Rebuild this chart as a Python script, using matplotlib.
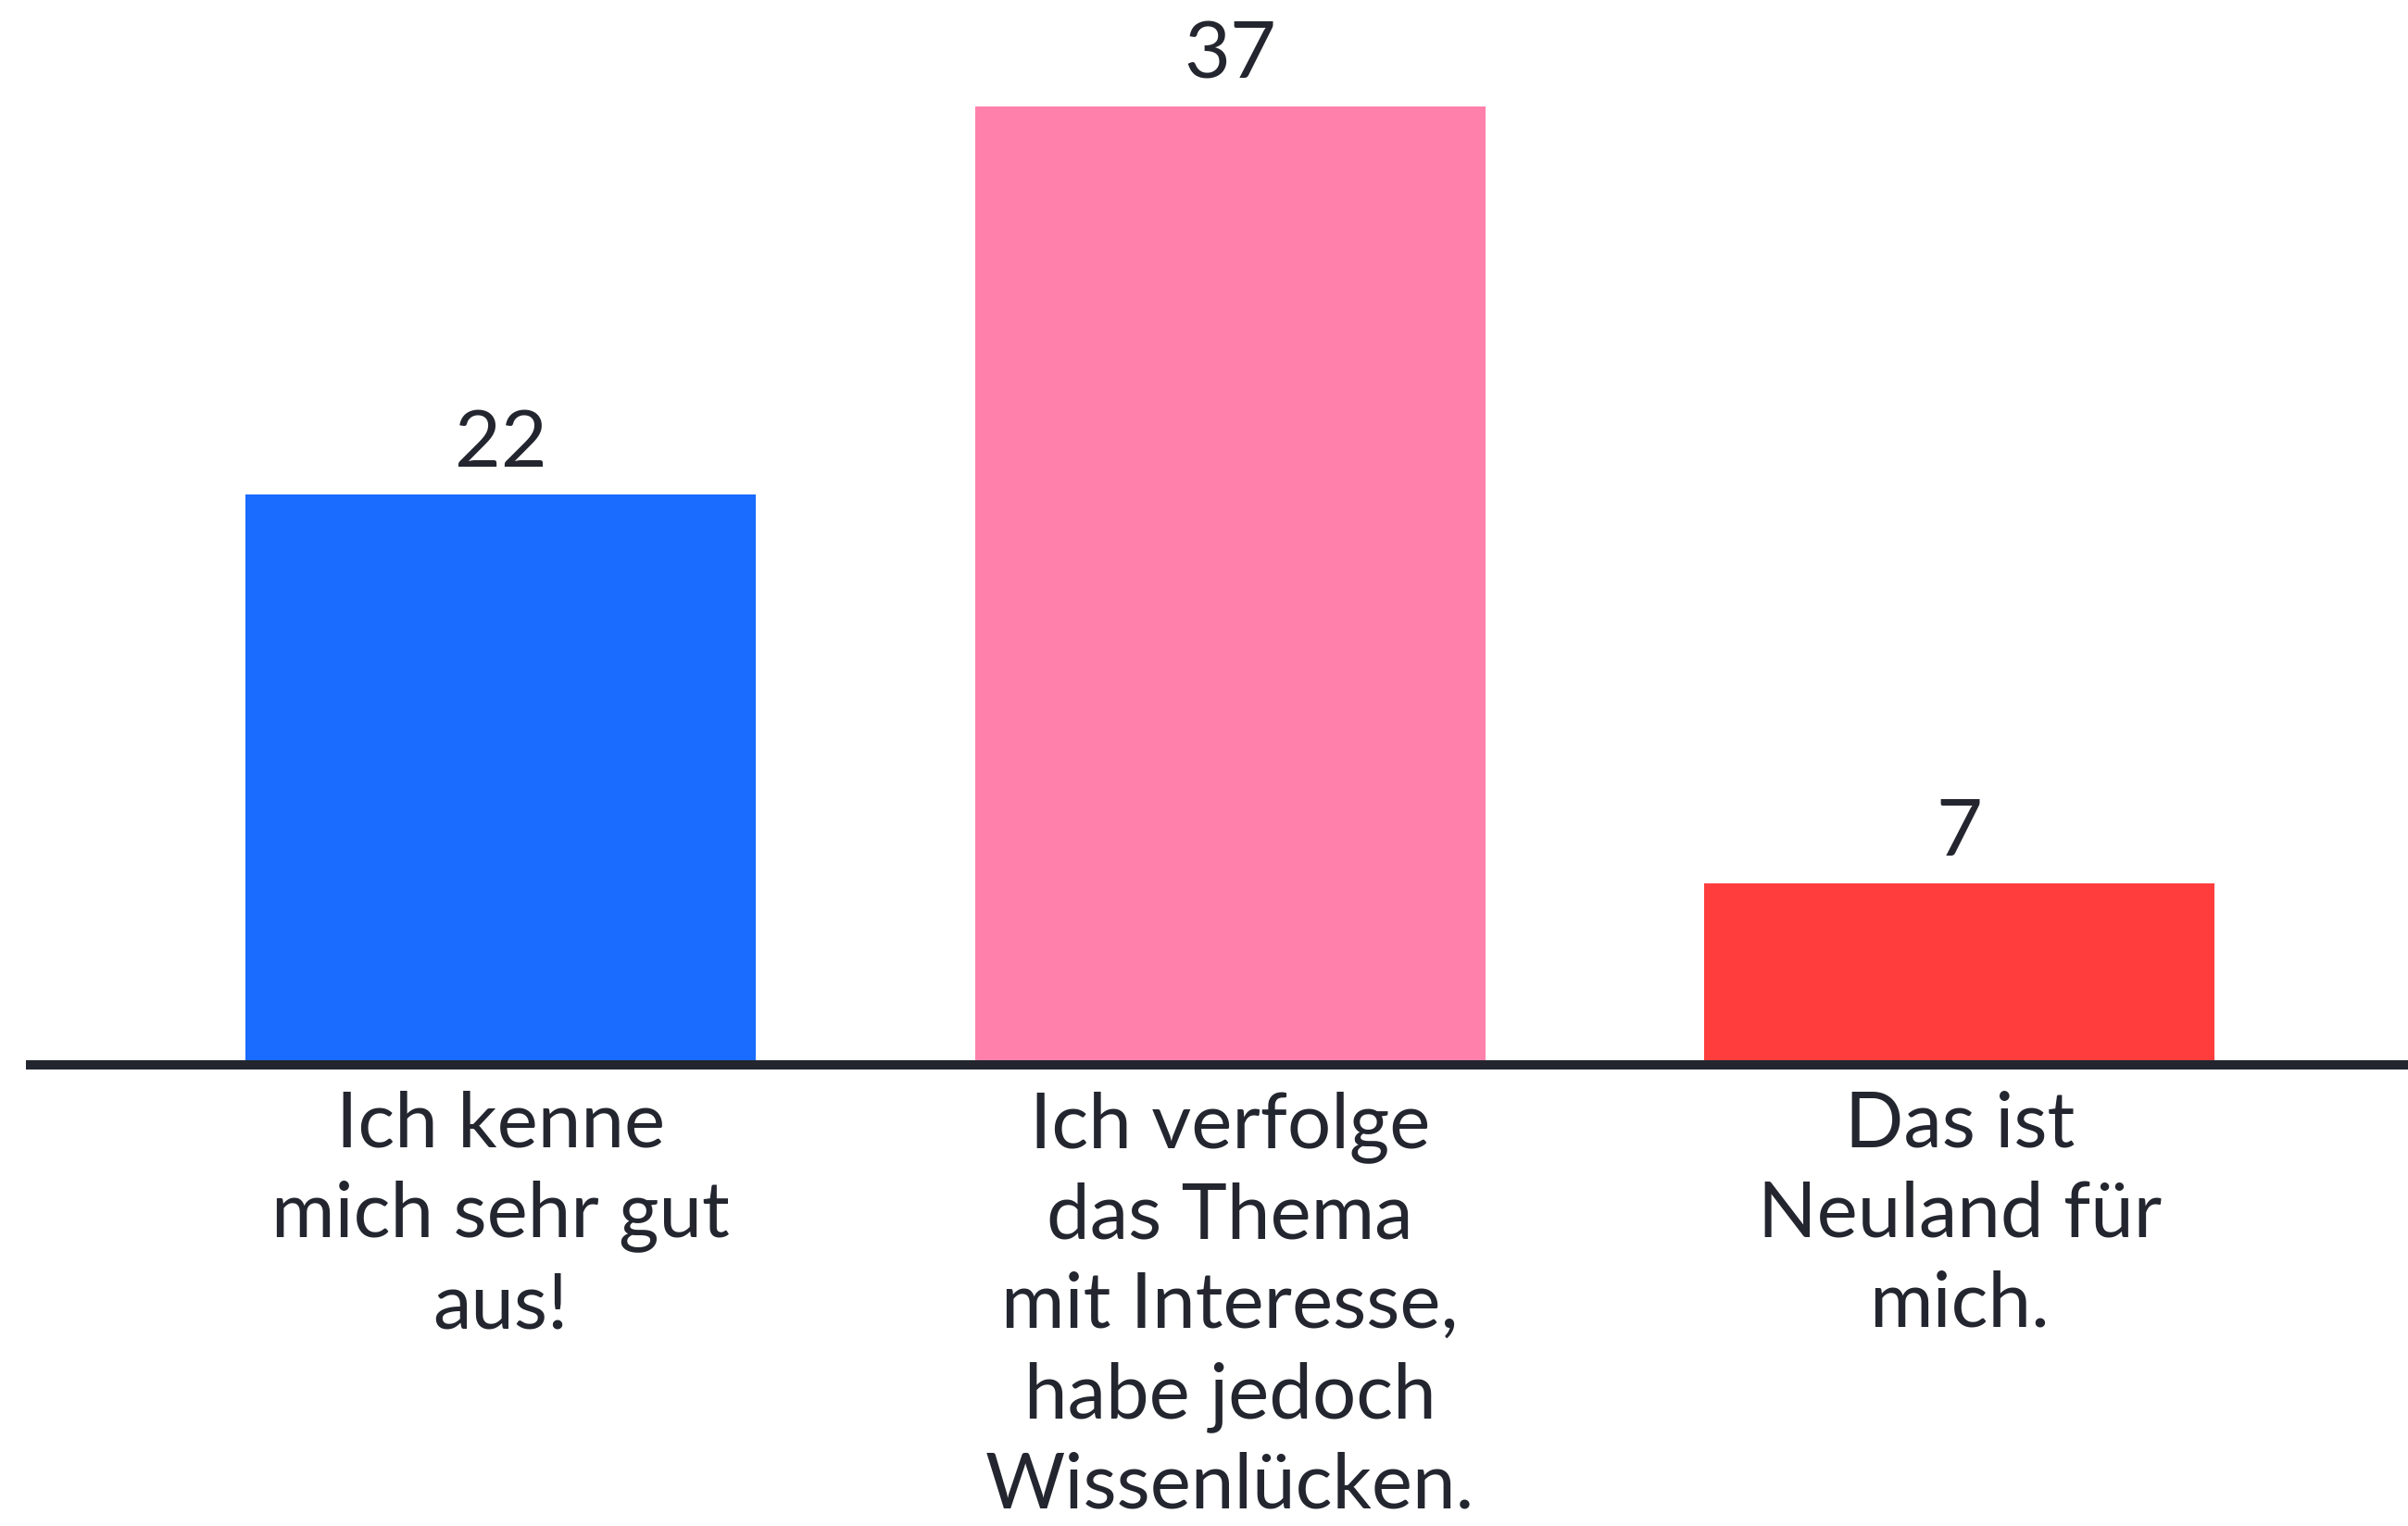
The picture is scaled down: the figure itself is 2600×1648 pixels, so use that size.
import matplotlib
matplotlib.use("Agg")
from matplotlib import pyplot as plt

# Survey answers and counts
categories = [
    "Ich kenne\nmich sehr gut\naus!",
    "Ich verfolge\ndas Thema\nmit Interesse,\nhabe jedoch\nWissenlücken.",
    "Das ist\nNeuland für\nmich.",
]
values = [22, 37, 7]
colors = ["#1A6BFF", "#FF80AB", "#FF3D3D"]

text_color = "#23262F"
plt.rcParams["font.family"] = ["Lato", "DejaVu Sans"]

fig = plt.figure(figsize=(26, 16.48), dpi=100)
ax = fig.add_axes([28 / 2600, 498 / 1648, 1 - 28 / 2600, 1150 / 1648])

x = list(range(len(values)))
bars = ax.bar(x, values, width=0.70, color=colors, zorder=2)

for rect, v in zip(bars, values):
    ax.annotate(str(v), (rect.get_x() + rect.get_width() / 2, v),
                xytext=(0, 11), textcoords="offset points",
                ha="center", va="bottom", fontsize=62, color=text_color)

ax.set_xlim(-0.651, 2.615)
ax.set_ylim(0, 41.1)

ax.set_xticks(x)
ax.set_xticklabels(categories, fontsize=60, color=text_color,
                   linespacing=1.34, multialignment="center")
ax.tick_params(axis="x", length=0, pad=20)
ax.set_yticks([])

for side in ["top", "left", "right"]:
    ax.spines[side].set_visible(False)
ax.spines["bottom"].set_linewidth(7.2)
ax.spines["bottom"].set_color(text_color)
ax.spines["bottom"].set_zorder(3)
ax.spines["bottom"].set_capstyle("butt")

fig.savefig("out.png", dpi=100)
